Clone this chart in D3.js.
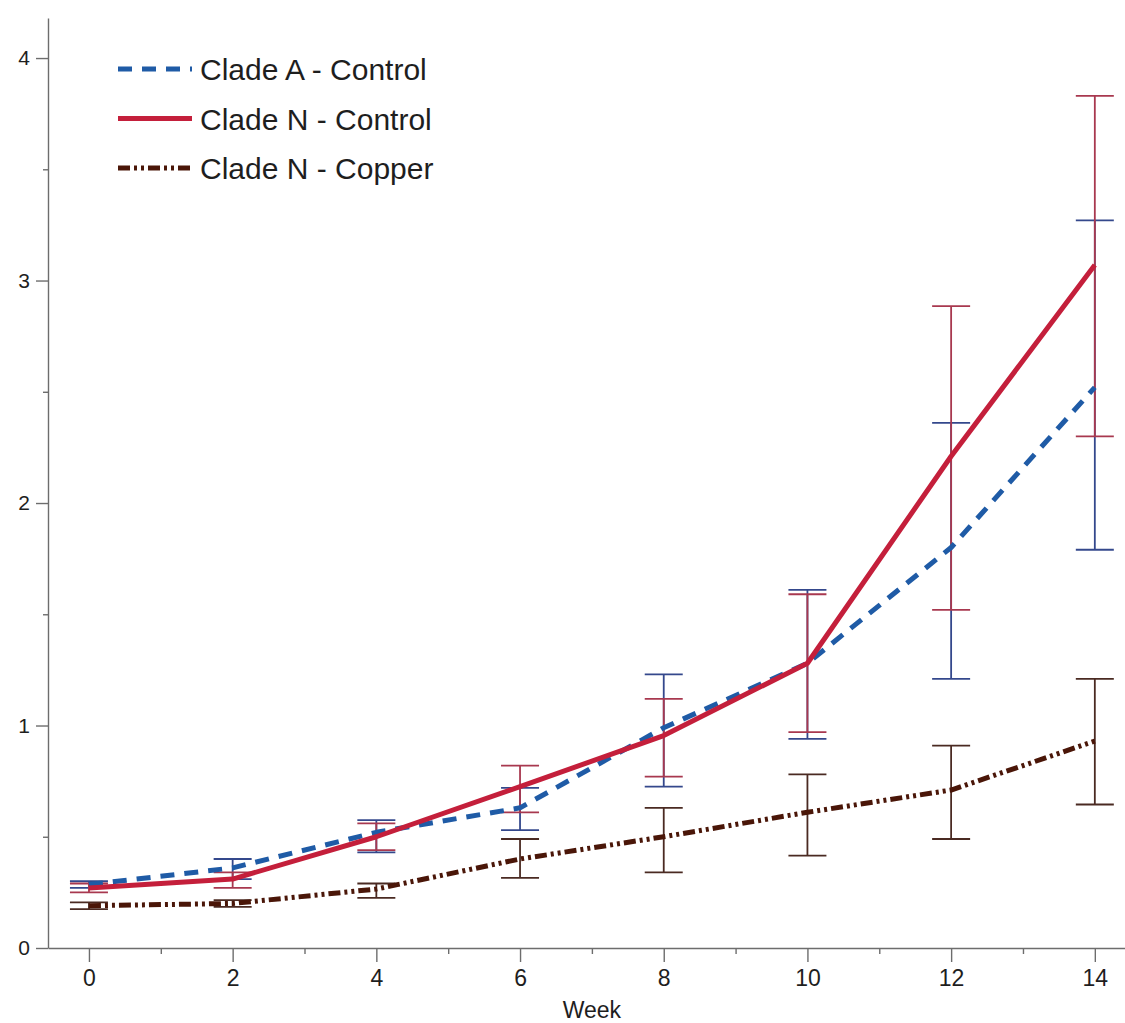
<!DOCTYPE html>
<html>
<head>
<meta charset="utf-8">
<script src="https://cdn.jsdelivr.net/npm/d3@7"></script>
<style>
  html, body { margin: 0; padding: 0; background: #fff; }
  svg { display: block; font-family: "Liberation Sans", Arial, Helvetica, sans-serif; }
</style>
</head>
<body>
<svg id="chart" width="1125" height="1023"></svg>
<script>
const weeks = [0, 2, 4, 6, 8, 10, 12, 14];
const seriesNames = ["Clade A - Control", "Clade N - Control", "Clade N - Copper"];

const cladeAControlMean = [0.285, 0.36, 0.52, 0.63, 0.99, 1.28, 1.80, 2.52];
const cladeAControlLow  = [0.27, 0.31, 0.43, 0.53, 0.725, 0.94, 1.21, 1.79];
const cladeAControlHigh = [0.30, 0.40, 0.575, 0.72, 1.23, 1.61, 2.36, 3.27];

const cladeNControlMean = [0.27, 0.31, 0.50, 0.725, 0.955, 1.28, 2.21, 3.07];
const cladeNControlLow  = [0.25, 0.27, 0.44, 0.61, 0.77, 0.97, 1.52, 2.30];
const cladeNControlHigh = [0.29, 0.34, 0.56, 0.82, 1.12, 1.59, 2.885, 3.83];

const cladeNCopperMean = [0.19, 0.20, 0.265, 0.40, 0.50, 0.61, 0.71, 0.93];
const cladeNCopperLow  = [0.175, 0.185, 0.225, 0.315, 0.34, 0.415, 0.49, 0.645];
const cladeNCopperHigh = [0.205, 0.215, 0.29, 0.49, 0.63, 0.78, 0.91, 1.21];

const yMajorTicks = [0, 1, 2, 3, 4];
const yMinorTicks = [0.5, 1.5, 2.5, 3.5];
const xMajorTicks = [0, 2, 4, 6, 8, 10, 12, 14];
const xMinorTicks = [1, 3, 5, 7, 9, 11, 13];
const xTitle = "Week";

const series = [
  { name: seriesNames[0], mean: cladeAControlMean, low: cladeAControlLow, high: cladeAControlHigh,
    color: "#1f5ba6", barColor: "#34488c", dash: "14,10", width: 5 },
  { name: seriesNames[1], mean: cladeNControlMean, low: cladeNControlLow, high: cladeNControlHigh,
    color: "#c41f3b", barColor: "#a8384f", dash: null, width: 5 },
  { name: seriesNames[2], mean: cladeNCopperMean, low: cladeNCopperLow, high: cladeNCopperHigh,
    color: "#4a1608", barColor: "#4a2a22", dash: "12,4,3,4,3,4", width: 5 }
];

const svg = d3.select("#chart");
const x = d3.scaleLinear().domain([-0.57, 14.42]).range([48, 1125]);
const y = d3.scaleLinear().domain([0, 4.18]).range([948, 18]);

const axisColor = "#6d6d6d";
const textColor = "#1e1e1e";

// Y axis
svg.append("g").attr("class", "yaxis").attr("transform", `translate(${x.range()[0]},0)`)
  .call(d3.axisLeft(y).tickValues(yMajorTicks).tickSize(12).tickSizeOuter(0).tickPadding(6).tickFormat(d3.format("d")));
svg.append("g").attr("transform", `translate(${x.range()[0]},0)`)
  .call(d3.axisLeft(y).tickValues(yMinorTicks).tickSize(5).tickSizeOuter(0).tickFormat(""))
  .select(".domain").remove();

// X axis
svg.append("g").attr("class", "xaxis").attr("transform", `translate(0,${y(0)})`)
  .call(d3.axisBottom(x).tickValues(xMajorTicks).tickSize(14).tickSizeOuter(0).tickPadding(8).tickFormat(d3.format("d")));
svg.append("g").attr("transform", `translate(0,${y(0)})`)
  .call(d3.axisBottom(x).tickValues(xMinorTicks).tickSize(6).tickSizeOuter(0).tickFormat(""))
  .select(".domain").remove();

svg.selectAll(".domain, .tick line").attr("stroke", axisColor).attr("stroke-width", 1.4);
svg.selectAll(".tick text").attr("fill", textColor);
svg.selectAll(".yaxis .tick text").style("font-size", "21px");
svg.selectAll(".xaxis .tick text").style("font-size", "23px");

svg.append("text").attr("x", x(7)).attr("y", 1018).attr("text-anchor", "middle")
  .attr("fill", textColor).style("font-size", "23px").text(xTitle);

// Error bars
const capHalf = 19;
series.forEach(s => {
  const g = svg.append("g").attr("stroke", s.barColor).attr("stroke-width", 1.8).attr("fill", "none");
  weeks.forEach((w, i) => {
    g.append("line").attr("x1", x(w)).attr("x2", x(w)).attr("y1", y(s.low[i])).attr("y2", y(s.high[i]));
    g.append("line").attr("x1", x(w) - capHalf).attr("x2", x(w) + capHalf).attr("y1", y(s.low[i])).attr("y2", y(s.low[i]));
    g.append("line").attr("x1", x(w) - capHalf).attr("x2", x(w) + capHalf).attr("y1", y(s.high[i])).attr("y2", y(s.high[i]));
  });
});

// Lines
const line = d3.line().x(d => x(d[0])).y(d => y(d[1]));
[series[2], series[0], series[1]].forEach(s => {
  svg.append("path")
    .datum(weeks.map((w, i) => [w, s.mean[i]]))
    .attr("d", line)
    .attr("fill", "none")
    .attr("stroke", s.color)
    .attr("stroke-width", s.width)
    .attr("stroke-linejoin", "round")
    .attr("stroke-dasharray", s.dash);
});

// Legend
const legend = svg.append("g");
series.forEach((s, i) => {
  const ly = 69 + i * 49.5;
  legend.append("line").attr("x1", 118).attr("x2", 192).attr("y1", ly).attr("y2", ly)
    .attr("stroke", s.color).attr("stroke-width", 5).attr("stroke-dasharray", s.dash);
  legend.append("text").attr("x", 200).attr("y", ly + 11).attr("fill", textColor)
    .style("font-size", "30px").text(s.name);
});
</script>
</body>
</html>
